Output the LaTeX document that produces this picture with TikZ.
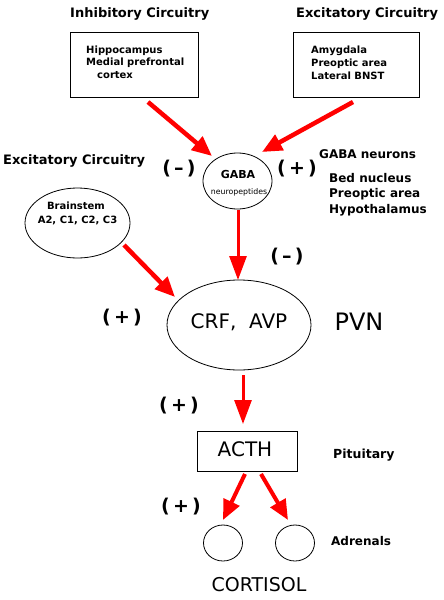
\documentclass[tikz,border=0pt]{standalone}
\usepackage{fontspec}
\setmainfont{DejaVu Sans}
\usetikzlibrary{arrows.meta,shapes.geometric}
\tikzset{
  head/.style={font=\bfseries\fontsize{13}{15}\selectfont, inner sep=0pt, anchor=base west},
  small/.style={font=\bfseries\fontsize{10}{12}\selectfont, inner sep=0pt, anchor=base west},
  side/.style={font=\bfseries\fontsize{12}{14}\selectfont, inner sep=0pt, anchor=base west},
  sign/.style={font=\bfseries\fontsize{19}{21}\selectfont, inner sep=0pt, anchor=center},
  big/.style={font=\fontsize{20}{22}\selectfont, inner sep=0pt, anchor=base},
  boxshape/.style={draw=black, line width=0.8pt, inner sep=0pt},
  ell/.style={draw=black, line width=0.8pt, ellipse, inner sep=0pt},
  arrA/.style={draw=red, line width=4.5pt, -{Triangle[length=20pt,width=17pt]}, red},
  arrV/.style={draw=red, line width=3pt, -{Triangle[length=24pt,width=17pt]}, red},
}
\begin{document}
\begin{tikzpicture}[x=1pt,y=-1pt]
\useasboundingbox[fill=white] (0,0) rectangle (444,600);
% headings
\node[head] (hInh) at (70,17) {Inhibitory Circuitry};
\node[head] (hExc) at (296,17) {Excitatory Circuitry};
\node[head] (hExcL) at (3,164) {Excitatory Circuitry};
\node[side] (hGN) at (319,158) {GABA neurons};
% boxes
\node[boxshape, minimum width=128pt, minimum height=65pt] (boxL) at (134,64.5) {};
\node[small] (tHip) at (86,53) {Hippocampus};
\node[small] (tMed) at (86,65.5) {Medial prefrontal};
\node[small] (tCor) at (97,78) {cortex};
\node[boxshape, minimum width=126pt, minimum height=65pt] (boxR) at (356,64.5) {};
\node[small] (tAmy) at (311,53) {Amygdala};
\node[small] (tPre) at (311,66) {Preoptic area};
\node[small] (tLat) at (311,79) {Lateral BNST};
% GABA list
\node[side] (tBed) at (329,182) {Bed nucleus};
\node[side] (tPre2) at (329,197.5) {Preoptic area};
\node[side] (tHyp) at (329,213) {Hypothalamus};
% ellipses
\node[ell, minimum width=69pt, minimum height=56pt] (gaba) at (237.5,181) {};
\node[font=\bfseries\fontsize{11}{13}\selectfont, inner sep=0pt, anchor=base] (tGaba) at (238,178) {GABA};
\node[font=\fontsize{7.8}{9}\selectfont, inner sep=0pt, anchor=base] (tNeu) at (239,194) {neuropeptides};
\node[ell, minimum width=105pt, minimum height=70pt] (brain) at (77.5,223) {};
\node[font=\bfseries\fontsize{10}{12}\selectfont, inner sep=0pt, anchor=base] (tBr) at (76,209) {Brainstem};
\node[font=\bfseries\fontsize{10}{12}\selectfont, inner sep=0pt, anchor=base] (tA2) at (77.5,223) {A2, C1, C2, C3};
\node[ell, minimum width=144pt, minimum height=90pt] (crf) at (239,325) {};
\node[big] (tCrf) at (239,328) {CRF,\ \ AVP};
\node[font=\fontsize{24}{26}\selectfont, inner sep=0pt, anchor=base] (tPvn) at (359,330) {PVN};
% ACTH
\node[boxshape, minimum width=100pt, minimum height=40pt] (acth) at (247,451) {};
\node[big] (tActh) at (245,456) {ACTH};
\node[side, font=\bfseries\fontsize{12.5}{14}\selectfont] (tPit) at (333,458) {Pituitary};
% adrenals
\node[ell, minimum width=39pt, minimum height=36pt] (adrL) at (223,543) {};
\node[ell, minimum width=39pt, minimum height=36pt] (adrR) at (295,543) {};
\node[side] (tAdr) at (331,545) {Adrenals};
\node[font=\fontsize{19}{21}\selectfont, inner sep=0pt, anchor=base] (tCort) at (259,591) {CORTISOL};
% signs
\node[sign] (s1) at (179,169) {(\,–\,)};
\node[sign] (s2) at (297,169) {(\,+\,)};
\node[sign] (s3) at (287,257) {(\,–\,)};
\node[sign] (s4) at (122,318) {(\,+\,)};
\node[sign] (s5) at (179,406) {(\,+\,)};
\node[sign] (s6) at (181,507) {(\,+\,)};
% arrow endpoints
\coordinate (aLs) at (148,102); \coordinate (aLe) at (212,156);
\coordinate (aRs) at (353,102); \coordinate (aRe) at (262,152);
\coordinate (aGs) at (238,210); \coordinate (aGe) at (238,280);
\coordinate (aBs) at (124,245); \coordinate (aBe) at (175,297);
\coordinate (aCs) at (243,375); \coordinate (aCe) at (243,424);
\coordinate (aDs) at (245,474); \coordinate (aDe) at (223,520);
\coordinate (aEs) at (261,474); \coordinate (aEe) at (288,520);
\draw[arrA] (aLs) -- (aLe);
\draw[arrA] (aRs) -- (aRe);
\draw[arrV] (aGs) -- (aGe);
\draw[arrA] (aBs) -- (aBe);
\draw[arrV] (aCs) -- (aCe);
\draw[arrA, line width=4pt] (aDs) -- (aDe);
\draw[arrA, line width=4pt] (aEs) -- (aEe);
\end{tikzpicture}
\end{document}
